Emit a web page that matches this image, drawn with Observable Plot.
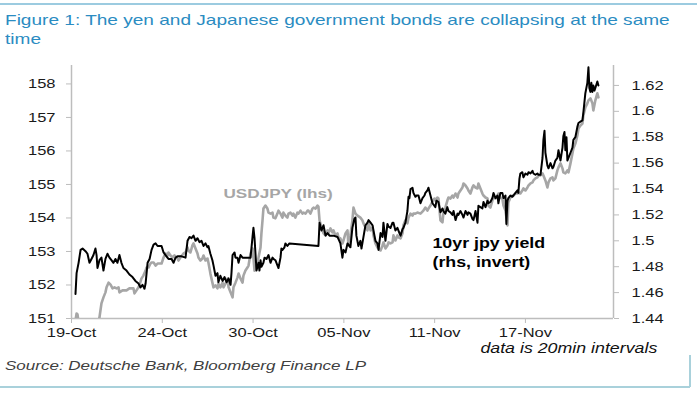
<!DOCTYPE html>
<html><head><meta charset="utf-8">
<script src="https://cdn.jsdelivr.net/npm/d3@7"></script>
<script src="https://cdn.jsdelivr.net/npm/@observablehq/plot@0.6"></script>
<style>
body{margin:0;background:#fff;}
#wrap{position:relative;width:700px;height:394px;overflow:hidden;font-family:"Liberation Sans",Arial,sans-serif;background:#fff;}
#chart{position:absolute;left:0;top:0;}
.t{position:absolute;white-space:nowrap;line-height:1;transform-origin:0 0;transform:scaleX(1.27);}
#title{left:5px;top:10px;font-size:15px;line-height:19px;color:#2b8cc2;}
#note{right:43px;top:341px;font-size:14px;font-style:italic;color:#111;transform-origin:100% 0;}
#source{left:5px;top:359px;font-size:13.4px;font-style:italic;color:#404040;}
#topline{position:absolute;left:0;top:3px;width:697px;height:2px;background:#9ccbe0;}
#boxb{position:absolute;left:0;top:386px;width:690px;height:1.5px;background:#a9d1db;}
#boxr{position:absolute;left:689px;top:355px;width:1.5px;height:32px;background:#a9d1db;}
</style></head><body>
<div id="wrap">
<div id="chart"></div>
<div id="topline"></div>
<div class="t" id="title">Figure 1: The yen and Japanese government bonds are collapsing at the same<br>time</div>
<div class="t" id="note">data is 20min intervals</div>
<div class="t" id="source">Source: Deutsche Bank, Bloomberg Finance LP</div>
<div id="boxb"></div>
<div id="boxr"></div>
</div>
<script>
// x = trading days since 19-Oct (ticks every 5 trading days)
const tickDays = [0, 5, 10, 15, 20, 25];
const tickLabels = ["19-Oct", "24-Oct", "30-Oct", "05-Nov", "11-Nov", "17-Nov"];
const usdjpyTicks = [151, 152, 153, 154, 155, 156, 157, 158];
const yieldTicks = [1.44, 1.46, 1.48, 1.50, 1.52, 1.54, 1.56, 1.58, 1.60, 1.62];

// USDJPY (lhs), [trading day, level]
const usdjpy = [[0.22,150.94],[0.28,151.15],[0.33,151.12],[0.39,150.88],[1.43,150.88],[1.54,151.03],[1.65,151.45],[1.76,151.63],[1.87,151.78],[1.93,151.93],[2.04,152.07],[2.15,152.01],[2.26,151.90],[2.37,151.93],[2.48,151.90],[2.59,151.93],[2.64,151.78],[2.81,151.84],[3.03,151.84],[3.19,151.90],[3.41,151.90],[3.47,151.75],[3.58,151.84],[3.69,151.93],[3.74,151.99],[3.85,152.19],[3.96,152.28],[4.08,152.43],[4.13,152.52],[4.24,152.52],[4.35,152.64],[4.41,152.67],[4.52,152.67],[4.63,152.58],[4.74,152.64],[4.85,152.64],[4.96,152.64],[5.07,152.82],[5.18,152.94],[5.29,152.88],[5.34,152.97],[5.45,152.88],[5.56,152.82],[5.67,152.88],[5.78,152.82],[5.84,152.79],[5.89,152.73],[6.00,152.82],[6.17,152.94],[6.28,152.97],[6.39,153.12],[6.44,153.03],[6.55,152.97],[6.66,153.18],[6.72,153.24],[6.83,153.09],[6.94,152.94],[6.99,152.82],[7.10,152.73],[7.21,152.79],[7.27,152.88],[7.38,152.73],[7.49,152.79],[7.54,152.67],[7.65,152.34],[7.76,152.07],[7.82,151.93],[7.93,151.99],[8.04,151.90],[8.09,152.04],[8.20,151.93],[8.32,152.07],[8.37,151.93],[8.48,152.04],[8.59,152.19],[8.65,151.93],[8.76,151.78],[8.87,151.63],[8.92,151.93],[9.03,152.07],[9.14,152.22],[9.20,152.34],[9.31,152.19],[9.42,152.07],[9.47,152.28],[9.58,152.43],[9.69,152.52],[9.75,152.58],[9.86,152.94],[9.97,153.09],[10.02,152.82],[10.08,152.43],[10.19,152.58],[10.24,152.67],[10.30,152.82],[10.41,153.12],[10.46,153.54],[10.52,153.93],[10.57,154.28],[10.68,154.37],[10.79,154.28],[10.85,154.16],[10.96,154.13],[11.07,154.16],[11.12,154.01],[11.23,153.99],[11.34,154.13],[11.40,154.22],[11.51,154.13],[11.62,154.01],[11.67,154.16],[11.78,154.07],[11.89,154.01],[11.95,154.13],[12.06,154.16],[12.17,154.07],[12.22,154.13],[12.33,154.01],[12.44,154.16],[12.50,154.13],[12.61,154.22],[12.72,154.13],[12.78,154.16],[12.89,154.13],[13.00,154.22],[13.05,154.22],[13.16,154.13],[13.27,154.28],[13.33,154.31],[13.44,154.28],[13.55,154.37],[13.60,154.34],[13.66,153.93],[13.77,153.72],[13.88,153.54],[13.99,153.48],[14.10,153.63],[14.15,153.54],[14.26,153.69],[14.37,153.57],[14.43,153.63],[14.54,153.48],[14.65,153.54],[14.70,153.42],[14.81,153.39],[14.92,153.24],[14.98,153.33],[15.09,153.54],[15.20,153.63],[15.25,153.18],[15.36,153.48],[15.47,153.93],[15.53,154.31],[15.64,154.13],[15.75,154.07],[15.91,154.01],[16.02,153.93],[16.08,153.84],[16.19,153.72],[16.30,153.63],[16.36,153.84],[16.47,153.63],[16.58,153.72],[16.63,153.48],[16.74,153.24],[16.85,153.12],[16.91,153.09],[17.02,153.03],[17.13,153.18],[17.18,153.27],[17.29,153.09],[17.40,153.18],[17.46,153.27],[17.57,153.24],[17.68,153.27],[17.73,153.48],[17.84,153.33],[17.95,153.48],[18.01,153.42],[18.12,153.39],[18.23,153.54],[18.28,153.78],[18.39,153.93],[18.50,153.84],[18.56,154.01],[18.67,154.13],[18.78,154.07],[18.83,154.13],[18.94,154.13],[19.05,154.16],[19.22,154.13],[19.38,154.22],[19.49,154.31],[19.60,154.22],[19.66,154.28],[19.77,154.37],[19.88,154.49],[19.99,154.58],[20.04,154.52],[20.15,154.61],[20.21,154.58],[20.32,153.93],[20.43,153.87],[20.48,154.13],[20.59,154.31],[20.70,154.52],[20.76,154.61],[20.87,154.58],[20.98,154.67],[21.04,154.61],[21.15,154.73],[21.26,154.61],[21.31,154.73],[21.42,154.82],[21.53,154.91],[21.59,155.03],[21.70,154.97],[21.81,154.88],[21.86,154.82],[21.97,154.73],[22.08,154.91],[22.14,154.97],[22.25,154.91],[22.36,154.88],[22.41,155.03],[22.52,154.88],[22.63,154.73],[22.69,154.67],[22.80,154.61],[22.91,154.58],[22.96,154.37],[23.07,154.31],[23.18,154.52],[23.24,154.61],[23.35,154.58],[23.46,154.67],[23.51,154.73],[23.62,154.61],[23.73,154.58],[23.79,154.37],[23.90,154.22],[24.01,153.78],[24.06,154.46],[24.17,154.61],[24.28,154.67],[24.34,154.67],[24.45,154.73],[24.56,154.73],[24.61,154.76],[24.72,154.73],[24.83,154.82],[24.89,154.88],[25.00,154.82],[25.11,154.91],[25.17,154.97],[25.28,155.03],[25.39,155.06],[25.44,155.12],[25.55,155.18],[25.66,155.21],[25.72,155.27],[25.83,155.27],[25.94,155.33],[25.99,155.27],[26.10,155.12],[26.21,154.91],[26.27,155.06],[26.38,155.18],[26.49,155.21],[26.54,155.12],[26.65,155.18],[26.76,155.42],[26.82,155.51],[26.93,155.63],[27.04,155.48],[27.09,155.36],[27.20,155.33],[27.31,155.42],[27.37,155.36],[27.48,155.63],[27.59,155.93],[27.64,156.07],[27.75,156.22],[27.86,156.46],[27.92,156.67],[28.03,156.76],[28.14,156.82],[28.19,157.06],[28.30,157.30],[28.41,157.42],[28.47,157.51],[28.58,157.57],[28.69,157.42],[28.74,157.21],[28.85,157.51],[28.96,157.72],[29.02,157.60]];

// 10yr JGB yield (rhs), [trading day, yield %]
const jgb10y = [[0.22,1.459],[0.28,1.475],[0.39,1.483],[0.50,1.493],[0.61,1.494],[0.77,1.492],[0.88,1.490],[0.99,1.483],[1.10,1.486],[1.21,1.489],[1.32,1.494],[1.38,1.489],[1.43,1.479],[1.54,1.485],[1.65,1.487],[1.76,1.477],[1.87,1.486],[1.98,1.490],[2.09,1.487],[2.20,1.485],[2.31,1.483],[2.42,1.486],[2.53,1.483],[2.64,1.489],[2.75,1.483],[2.86,1.479],[3.03,1.477],[3.19,1.474],[3.36,1.472],[3.52,1.469],[3.69,1.467],[3.80,1.464],[3.91,1.466],[4.02,1.463],[4.08,1.467],[4.19,1.483],[4.30,1.486],[4.41,1.493],[4.52,1.497],[4.63,1.498],[4.74,1.496],[4.85,1.496],[4.96,1.496],[5.07,1.491],[5.23,1.488],[5.34,1.486],[5.51,1.486],[5.62,1.483],[5.73,1.487],[5.84,1.488],[6.06,1.488],[6.28,1.487],[6.39,1.500],[6.50,1.503],[6.61,1.502],[6.72,1.504],[6.83,1.500],[6.94,1.502],[7.05,1.499],[7.16,1.500],[7.27,1.496],[7.38,1.498],[7.49,1.495],[7.54,1.496],[7.65,1.490],[7.76,1.485],[7.82,1.481],[7.93,1.473],[8.04,1.475],[8.09,1.468],[8.20,1.473],[8.32,1.469],[8.43,1.472],[8.54,1.468],[8.65,1.471],[8.76,1.466],[8.81,1.475],[8.87,1.489],[8.98,1.491],[9.03,1.487],[9.14,1.487],[9.20,1.483],[9.31,1.489],[9.42,1.487],[9.58,1.487],[9.86,1.487],[9.97,1.503],[10.02,1.510],[10.08,1.502],[10.19,1.477],[10.30,1.483],[10.35,1.477],[10.41,1.485],[10.46,1.480],[10.57,1.483],[10.63,1.487],[10.74,1.486],[10.85,1.489],[10.96,1.483],[11.07,1.487],[11.12,1.486],[11.23,1.485],[11.34,1.481],[11.40,1.479],[11.51,1.487],[11.56,1.494],[11.62,1.493],[11.73,1.495],[11.78,1.498],[11.89,1.496],[12.00,1.498],[13.60,1.496],[13.66,1.514],[13.77,1.508],[13.88,1.512],[13.99,1.504],[14.10,1.506],[14.21,1.504],[14.43,1.504],[14.65,1.503],[14.81,1.498],[14.92,1.487],[14.98,1.493],[15.09,1.491],[15.20,1.498],[15.36,1.495],[15.47,1.510],[15.58,1.517],[15.64,1.518],[15.69,1.504],[15.80,1.496],[15.91,1.500],[15.97,1.494],[16.08,1.503],[16.19,1.512],[16.30,1.514],[16.36,1.516],[16.47,1.514],[16.58,1.512],[16.63,1.508],[16.74,1.500],[16.85,1.498],[16.91,1.493],[16.96,1.499],[17.02,1.506],[17.13,1.503],[17.18,1.514],[17.29,1.500],[17.40,1.513],[17.46,1.511],[17.57,1.510],[17.68,1.514],[17.73,1.514],[17.84,1.508],[17.95,1.510],[18.06,1.506],[18.12,1.504],[18.23,1.509],[18.28,1.510],[18.39,1.514],[18.50,1.523],[18.56,1.534],[18.61,1.533],[18.67,1.540],[18.78,1.541],[18.83,1.537],[18.94,1.534],[19.00,1.535],[19.11,1.535],[19.22,1.529],[19.33,1.533],[19.44,1.535],[19.49,1.537],[19.60,1.539],[19.66,1.541],[19.77,1.535],[19.88,1.529],[19.99,1.527],[20.04,1.526],[20.10,1.531],[20.21,1.530],[20.32,1.522],[20.43,1.525],[20.48,1.523],[20.59,1.521],[20.70,1.526],[20.76,1.523],[20.87,1.522],[20.98,1.520],[21.04,1.523],[21.15,1.516],[21.26,1.521],[21.31,1.520],[21.42,1.523],[21.53,1.520],[21.59,1.518],[21.70,1.523],[21.81,1.520],[21.86,1.522],[21.97,1.521],[22.08,1.517],[22.14,1.516],[22.25,1.523],[22.36,1.514],[22.41,1.527],[22.52,1.526],[22.63,1.525],[22.69,1.530],[22.80,1.526],[22.91,1.531],[22.96,1.529],[23.07,1.530],[23.18,1.533],[23.24,1.537],[23.35,1.533],[23.46,1.535],[23.51,1.529],[23.62,1.537],[23.73,1.537],[23.79,1.533],[23.90,1.535],[23.95,1.513],[24.01,1.531],[24.06,1.533],[24.17,1.535],[24.28,1.534],[24.34,1.535],[24.45,1.537],[24.56,1.539],[24.61,1.537],[24.67,1.548],[24.72,1.552],[24.83,1.553],[24.89,1.549],[25.00,1.552],[25.11,1.551],[25.17,1.553],[25.28,1.552],[25.39,1.554],[25.44,1.552],[25.55,1.551],[25.66,1.552],[25.72,1.551],[25.83,1.551],[25.94,1.564],[25.99,1.578],[26.05,1.585],[26.10,1.568],[26.21,1.558],[26.27,1.556],[26.38,1.560],[26.49,1.556],[26.54,1.557],[26.65,1.562],[26.76,1.564],[26.82,1.570],[26.93,1.562],[27.04,1.572],[27.09,1.581],[27.15,1.584],[27.20,1.570],[27.26,1.580],[27.31,1.562],[27.37,1.564],[27.48,1.568],[27.59,1.572],[27.64,1.578],[27.75,1.580],[27.86,1.588],[27.92,1.591],[28.03,1.592],[28.14,1.593],[28.19,1.599],[28.30,1.614],[28.41,1.622],[28.47,1.634],[28.52,1.618],[28.58,1.615],[28.63,1.622],[28.69,1.615],[28.74,1.620],[28.80,1.616],[28.85,1.618],[28.96,1.623],[29.02,1.620]];

// map the right-hand yield axis onto the left-hand USDJPY scale
const yLo = 1.44, lLo = 151, k = 0.02588;
const yToL = r => lLo + (r - yLo) / k;
const lToY = v => yLo + (v - lLo) * k;
const fmtY = v => String(Math.round(lToY(v) * 100) / 100);

const AX = "#bdbdbd";
const xMax = 29.85;

const plot = Plot.plot({
  width: 700, height: 394,
  marginLeft: 71, marginRight: 87, marginTop: 65, marginBottom: 76,
  style: {fontFamily: "'Liberation Sans', Arial, sans-serif", fontSize: "13px", color: "#1a1a1a", background: "transparent"},
  x: {type: "linear", domain: [0, xMax]},
  y: {type: "linear", domain: [151, 158.55]},
  marks: [
    Plot.axisY(usdjpyTicks, {anchor: "left", tickSize: 5, tickPadding: 11, stroke: AX, fill: "#1a1a1a", label: null}),
    Plot.axisY(yieldTicks.map(yToL), {anchor: "right", tickSize: 5, tickPadding: 13, stroke: AX, fill: "#1a1a1a", tickFormat: fmtY, label: null}),
    Plot.axisX(tickDays, {anchor: "bottom", tickSize: 5, tickPadding: 4, stroke: AX, fill: "#1a1a1a", tickFormat: d => tickLabels[tickDays.indexOf(d)], label: null}),
    Plot.ruleX([0, xMax], {stroke: AX, strokeWidth: 1.5}),
    Plot.ruleY([151], {stroke: AX, strokeWidth: 1.5}),
    Plot.line(usdjpy, {x: d => d[0], y: d => d[1], stroke: "#a6a6a6", strokeWidth: 2.6, clip: true}),
    Plot.line(jgb10y, {x: d => d[0], y: d => yToL(d[1]), stroke: "#000", strokeWidth: 2, clip: true}),
    Plot.text(["USDJPY (lhs)"], {x: 8.37, y: 154.73, textAnchor: "start", fill: "#a6a6a6", fontWeight: "bold", fontSize: 13.5}),
    Plot.text(["10yr jpy yield", "(rhs, invert)"], {x: 19.88, y: (d, i) => [153.24, 152.68][i], textAnchor: "start", fill: "#000", fontWeight: "bold", fontSize: 14})
  ]
});
document.getElementById("chart").appendChild(plot);

// the reference's lettering is horizontally stretched: widen each text about its anchor
const S = 1.27;
plot.querySelectorAll("text").forEach(t => {
  const x0 = parseFloat(t.getAttribute("x")) || 0;
  const tr = t.getAttribute("transform") || "";
  t.setAttribute("transform", `${tr} translate(${x0},0) scale(${S},1) translate(${-x0},0)`);
});
</script>
</body></html>
